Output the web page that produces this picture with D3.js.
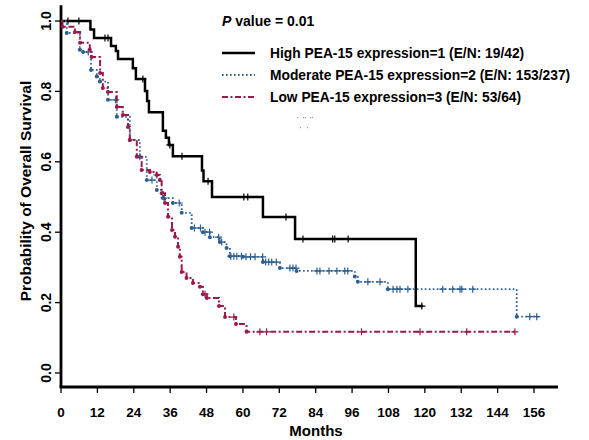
<!DOCTYPE html>
<html>
<head>
<meta charset="utf-8">
<script src="https://cdn.jsdelivr.net/npm/d3@7"></script>
<style>
  body { margin: 0; background: #fff; }
  svg { display: block; font-family: "Liberation Sans", Arial, sans-serif; }
</style>
</head>
<body>
<div id="chart"></div>
<script>
// Kaplan-Meier estimates (months, survival)
const highTimes = [0, 9.7, 10.9, 16.5, 18.1, 18.8, 23.7, 24.7, 27.7, 28.4, 29.0, 33.6, 34.6, 35.6, 36.9, 46.5, 47.0, 49.8, 66.6, 77.2, 117.0];
const highSurv  = [1, 0.976, 0.952, 0.929, 0.915, 0.892, 0.866, 0.835, 0.801, 0.773, 0.741, 0.688, 0.668, 0.648, 0.616, 0.575, 0.545, 0.5, 0.443, 0.381, 0.19];
const highEnd = 119.4;
const highCensor = [2.3, 5.9, 14.5, 15.5, 27.0, 35.9, 39.9, 48.5, 60.3, 61.6, 74.2, 79.8, 89.6, 90.3, 94.7, 119.0];

const modTimes = [0, 1.9, 6.2, 7.3, 9.9, 11.8, 12.8, 15.5, 18.4, 22.7, 26.0, 28.3, 31.6, 33.6, 36.9, 39.8, 43.1, 46.8, 49.1, 52.4, 54.6, 55.7, 60.0, 66.6, 72.2, 77.7, 96.9, 97.9, 107.8, 150.3];
const modSurv  = [1, 0.966, 0.918, 0.912, 0.861, 0.842, 0.828, 0.776, 0.728, 0.662, 0.614, 0.548, 0.52, 0.497, 0.483, 0.455, 0.412, 0.40, 0.386, 0.372, 0.355, 0.332, 0.33, 0.315, 0.298, 0.29, 0.274, 0.259, 0.238, 0.16];
const modEnd = 157.9;
const modCensor = [9, 18, 26, 30, 34, 39, 44, 46, 47.5, 49, 52, 53, 56, 57, 58, 59.5, 61, 62.5, 64, 66.5, 67.5, 68.5, 69.5, 71, 75.5, 76.5, 77.5, 84.4, 85.4, 88.4, 91, 93.6, 94.6, 101.2, 105.2, 109.5, 110.8, 111.8, 114.4, 125.9, 129.2, 131.6, 132.2, 135.8, 154.6, 156.9];

const lowTimes = [0, 0.5, 4.6, 6.3, 9.5, 10.1, 12.9, 13.8, 15.5, 18.4, 20.4, 22.1, 22.7, 25.0, 26.6, 29.3, 31.6, 32.6, 33.2, 34.3, 35.3, 36.6, 37.6, 38.6, 39.2, 39.8, 41.4, 43.5, 45.8, 46.8, 48.1, 52.1, 54.1, 57.7, 61.2];
const lowSurv  = [1, 0.984, 0.969, 0.938, 0.918, 0.898, 0.852, 0.81, 0.798, 0.756, 0.733, 0.699, 0.662, 0.614, 0.577, 0.571, 0.5625, 0.548, 0.511, 0.483, 0.444, 0.406, 0.387, 0.359, 0.33, 0.287, 0.27, 0.256, 0.245, 0.224, 0.213, 0.19, 0.159, 0.139, 0.117];
const lowEnd = 149.7;
const lowCensor = [31.6, 47.5, 57.0, 65.6, 67.8, 99.1, 118.4, 133.8, 149.7];

const xTicks = [0, 12, 24, 36, 48, 60, 72, 84, 96, 108, 120, 132, 144, 156];
const yTicks = [0, 0.2, 0.4, 0.6, 0.8, 1.0];

const legendLabels = [
  "High PEA-15 expression=1 (E/N: 19/42)",
  "Moderate PEA-15 expression=2 (E/N: 153/237)",
  "Low PEA-15 expression=3 (E/N: 53/64)"
];

const width = 589, height = 440;

// scales
const x = d3.scaleLinear().domain([0, 156]).range([61, 534]);
const y = d3.scaleLinear().domain([0, 1]).range([373, 21]);

const svg = d3.select("#chart").append("svg")
    .attr("width", width)
    .attr("height", height);

// axes lines
svg.append("line")
    .attr("x1", x(0)).attr("x2", x(0))
    .attr("y1", y(1.045)).attr("y2", 387)
    .attr("stroke", "#000").attr("stroke-width", 2.8);
svg.append("line")
    .attr("x1", x(0) - 1.4).attr("x2", x(163.9))
    .attr("y1", 387).attr("y2", 387)
    .attr("stroke", "#000").attr("stroke-width", 2.8);

// y ticks
const yt = svg.append("g").selectAll("g").data(yTicks).join("g");
yt.append("line")
    .attr("x1", x(0) - 6).attr("x2", x(0))
    .attr("y1", d => y(d)).attr("y2", d => y(d))
    .attr("stroke", "#000").attr("stroke-width", 1.3);
yt.append("text")
    .attr("transform", d => `translate(51,${y(d)}) rotate(-90)`)
    .attr("text-anchor", "middle")
    .style("font-size", "14px").style("font-weight", "bold")
    .text(d => d.toFixed(1));

// x ticks
const xt = svg.append("g").selectAll("g").data(xTicks).join("g");
xt.append("line")
    .attr("x1", d => x(d)).attr("x2", d => x(d))
    .attr("y1", 387).attr("y2", 393)
    .attr("stroke", "#000").attr("stroke-width", 1.3);
xt.append("text")
    .attr("x", d => x(d)).attr("y", 417)
    .attr("text-anchor", "middle")
    .style("font-size", "13.5px").style("font-weight", "bold")
    .text(d => d);

// axis titles
svg.append("text")
    .attr("x", 316).attr("y", 436)
    .attr("text-anchor", "middle")
    .style("font-size", "15px").style("font-weight", "bold")
    .text("Months");
svg.append("text")
    .attr("transform", `translate(31,191) rotate(-90)`)
    .attr("text-anchor", "middle")
    .style("font-size", "15.5px").style("font-weight", "bold")
    .text("Probability of Overall Survival");

// curves
const line = d3.line()
    .x(d => x(d[0]))
    .y(d => y(d[1]))
    .curve(d3.curveStepAfter);

const groups = [
  {times: highTimes, surv: highSurv, end: highEnd, censor: highCensor, color: "#000", width: 2.5, dash: null, dots: false},
  {times: modTimes, surv: modSurv, end: modEnd, censor: modCensor, color: "#2b5f92", width: 1.8, dash: "1.6,2.4", dots: true},
  {times: lowTimes, surv: lowSurv, end: lowEnd, censor: lowCensor, color: "#9b1a4d", width: 2, dash: "6,2.5,2,2.5", dots: true}
];

function survAt(g, t) {
  let s = 1;
  g.times.forEach((tt, i) => { if (tt <= t) s = g.surv[i]; });
  return s;
}

groups.forEach(g => {
  const pts = g.times.map((t, i) => [t, g.surv[i]]);
  pts.push([g.end, g.surv[g.surv.length - 1]]);
  svg.append("path")
      .attr("d", line(pts))
      .attr("fill", "none")
      .attr("stroke", g.color)
      .attr("stroke-width", g.width)
      .attr("stroke-dasharray", g.dash);

  if (g.dots) {
    svg.append("g").selectAll("circle")
        .data(pts.slice(1, -1))
        .join("circle")
        .attr("cx", d => x(d[0]))
        .attr("cy", d => y(d[1]))
        .attr("r", 2)
        .attr("fill", g.color);
  }

  // censor marks
  svg.append("g").selectAll("path")
      .data(g.censor)
      .join("path")
      .attr("d", t => {
        const cx = x(t), cy = y(survAt(g, t));
        return `M${cx - 3.5},${cy}H${cx + 3.5}M${cx},${cy - 3.5}V${cy + 3.5}`;
      })
      .attr("stroke", g.color)
      .attr("stroke-width", 1.2);
});

// legend
svg.append("text")
    .attr("x", 222).attr("y", 26)
    .style("font-size", "14px").style("font-weight", "bold")
    .call(t => {
      t.append("tspan").style("font-style", "italic").text("P");
      t.append("tspan").text(" value = 0.01");
    });

const lg = svg.append("g").selectAll("g").data(groups).join("g")
    .attr("transform", (d, i) => `translate(0,${53 + i * 22})`);
lg.append("line")
    .attr("x1", 222).attr("x2", 255)
    .attr("stroke", d => d.color)
    .attr("stroke-width", d => d.width)
    .attr("stroke-dasharray", d => d.dash);
lg.append("text")
    .attr("x", 270).attr("y", 5)
    .style("font-size", "13.8px").style("font-weight", "bold")
    .text((d, i) => legendLabels[i]);

// faint stray marks under the legend, as in the source figure
const strayDots = [[0, 0], [6, 0], [8, 0], [13, 0], [15, 0], [3, 10], [10, 10]];
svg.append("g").attr("transform", "translate(297,117)")
    .selectAll("rect").data(strayDots).join("rect")
    .attr("x", d => d[0]).attr("y", d => d[1])
    .attr("width", 1.2).attr("height", 1.2)
    .attr("fill", (d, i) => i < 5 ? "#8aa0b8" : "#c08aa0");
</script>
</body>
</html>
